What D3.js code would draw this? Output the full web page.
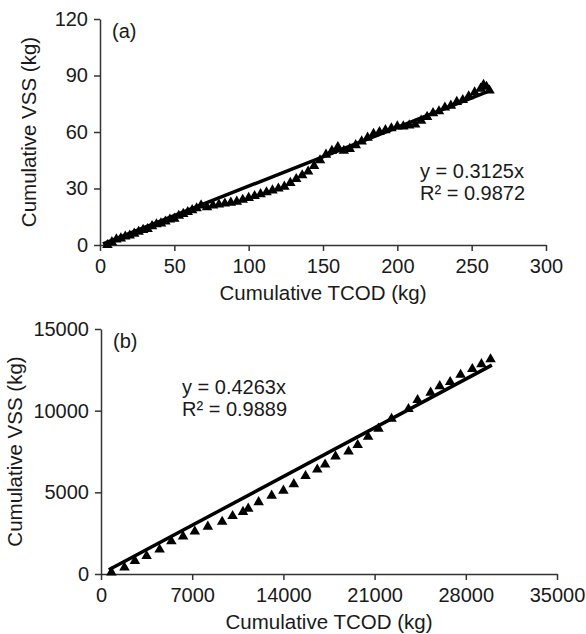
<!DOCTYPE html>
<html>
<head>
<meta charset="utf-8">
<script src="https://cdn.jsdelivr.net/npm/d3@7"></script>
<style>
  body { margin: 0; background: #fff; }
  text { font-family: "Liberation Sans", Arial, sans-serif; fill: #1a1a1a; }
</style>
</head>
<body>
<div id="viscontainer"></div>
<script>
// panel (a): cumulative TCOD vs cumulative VSS (kg)
const tcodA = [5, 8, 11, 14, 17, 20, 23, 26, 29, 32, 35, 38, 41, 44, 47, 50, 53, 56, 59, 62, 65, 68,
  72, 76, 80, 84, 88, 92, 96, 100, 104, 108, 112, 116, 120, 124, 128, 132, 136, 140, 144, 148,
  152, 156, 160, 164, 168, 172, 176, 180, 184, 188, 192, 196, 200, 204, 208, 212, 216, 220,
  224, 228, 232, 236, 240, 244, 248, 252, 256, 258, 260, 262];
const vssA = [0, 1.5, 3, 3.5, 4.5, 5, 6, 7, 8, 8.5, 10, 11, 11.5, 12.5, 13.5, 14, 15.5, 16.5, 17.5, 18.5, 19.5, 21,
  20, 21, 21.5, 22, 22.5, 23, 24, 25, 26, 27, 28, 29, 30, 31, 33, 35, 37, 39, 42, 45,
  48, 50, 52, 50, 51, 53, 55, 57, 59, 60, 61, 62, 63, 63, 63.5, 64, 66, 68,
  70, 71, 73, 74, 76, 77, 79, 81, 83, 85, 84, 82];
const slopeA = 0.3125;
const fitRangeA = [2, 262];
const xTicksA = [0, 50, 100, 150, 200, 250, 300];
const yTicksA = [0, 30, 60, 90, 120];

// panel (b)
const tcodB = [800, 1800, 2600, 3500, 4500, 5400, 6300, 7200, 8200, 9300, 10100, 10900, 11300, 12100,
  13100, 14000, 14800, 15700, 16600, 17200, 18000, 19000, 19700, 20500, 21300, 22300, 23600,
  24300, 25300, 26000, 26800, 27600, 28500, 29200, 29900];
const vssB = [100, 400, 800, 1100, 1500, 2000, 2300, 2600, 2900, 3200, 3550, 3800, 4000, 4400,
  4800, 5100, 5500, 6000, 6400, 6700, 7200, 7500, 7900, 8400, 8900, 9500, 10100,
  10650, 11100, 11500, 11750, 12200, 12550, 12850, 13150];
const slopeB = 0.4263;
const fitRangeB = [600, 30000];
const xTicksB = [0, 7000, 14000, 21000, 28000, 35000];
const yTicksB = [0, 5000, 10000, 15000];

const width = 586;
const height = 634;

const svg = d3.create("svg").attr("width", width).attr("height", height);
viscontainer.append(svg.node());

function drawPanel(opts) {
  const { xs, ys, slope, fitRange, xTicks, yTicks, left, right, top, bottom,
    tag, eq, r2, eqX, eqY, yTitleX } = opts;

  const xScale = d3.scaleLinear()
    .domain([0, xTicks[xTicks.length - 1]])
    .range([left, right]);
  const yScale = d3.scaleLinear()
    .domain([0, yTicks[yTicks.length - 1]])
    .range([bottom, top]);

  const g = svg.append("g");

  // axes
  const xAxis = g.append("g")
    .attr("transform", `translate(0, ${bottom})`)
    .call(d3.axisBottom(xScale).tickValues(xTicks).tickFormat(d3.format("d"))
      .tickSize(6).tickSizeOuter(0).tickPadding(8));
  const yAxis = g.append("g")
    .attr("transform", `translate(${left}, 0)`)
    .call(d3.axisLeft(yScale).tickValues(yTicks).tickFormat(d3.format("d"))
      .tickSize(6).tickSizeOuter(0).tickPadding(6));

  [xAxis, yAxis].forEach((ax) => {
    ax.selectAll("text").attr("font-size", 20).attr("font-family", null);
    ax.selectAll("path, line").attr("stroke", "#333").attr("stroke-width", 1.5);
  });

  // axis titles
  g.append("text")
    .attr("x", (left + right) / 2)
    .attr("y", bottom + 55)
    .attr("text-anchor", "middle")
    .attr("font-size", 20.5)
    .text("Cumulative TCOD (kg)");
  g.append("text")
    .attr("transform", `translate(${yTitleX}, ${(top + bottom) / 2}) rotate(-90)`)
    .attr("text-anchor", "middle")
    .attr("font-size", 20.5)
    .text("Cumulative VSS (kg)");

  // fitted line through origin
  g.append("line")
    .attr("x1", xScale(fitRange[0]))
    .attr("y1", yScale(fitRange[0] * slope))
    .attr("x2", xScale(fitRange[1]))
    .attr("y2", yScale(fitRange[1] * slope))
    .attr("stroke", "#000")
    .attr("stroke-width", 3.5);

  // data triangles
  const tri = d3.symbol().type(d3.symbolTriangle).size(48);
  g.selectAll("path.pt")
    .data(xs.map((x, i) => ({ x, y: ys[i] })))
    .join("path")
    .attr("class", "pt")
    .attr("d", tri)
    .attr("transform", (d) => `translate(${xScale(d.x)}, ${yScale(d.y)})`)
    .attr("fill", "#000");

  // labels
  g.append("text").attr("x", left + 12).attr("y", top + 19).attr("font-size", 20).text(tag);
  g.append("text").attr("x", eqX).attr("y", eqY).attr("font-size", 20).text(eq);
  g.append("text").attr("x", eqX).attr("y", eqY + 22).attr("font-size", 20).text(r2);
}

drawPanel({
  xs: tcodA, ys: vssA, slope: slopeA, fitRange: fitRangeA,
  xTicks: xTicksA, yTicks: yTicksA,
  left: 100, right: 546, top: 19, bottom: 245,
  tag: "(a)", eq: "y = 0.3125x", r2: "R² = 0.9872", eqX: 420, eqY: 178, yTitleX: 36
});

drawPanel({
  xs: tcodB, ys: vssB, slope: slopeB, fitRange: fitRangeB,
  xTicks: xTicksB, yTicks: yTicksB,
  left: 101, right: 557, top: 329, bottom: 574,
  tag: "(b)", eq: "y = 0.4263x", r2: "R² = 0.9889", eqX: 182, eqY: 394, yTitleX: 22
});
</script>
</body>
</html>
